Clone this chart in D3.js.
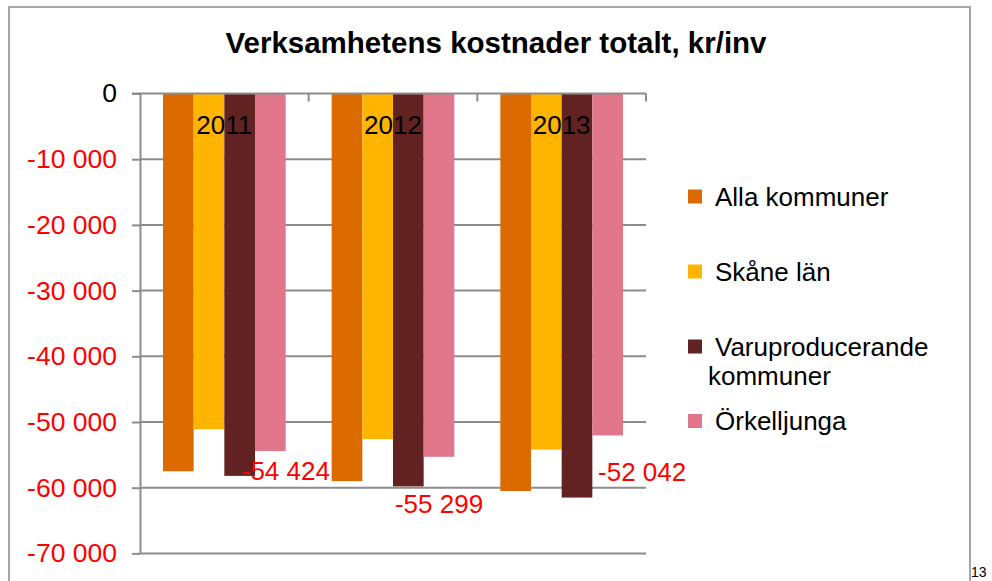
<!DOCTYPE html>
<html>
<head>
<meta charset="utf-8">
<script src="https://cdn.jsdelivr.net/npm/d3@7"></script>
<style>
  html, body { margin: 0; padding: 0; background: #fff; }
  svg { display: block; }
  text { font-family: "Liberation Sans", Arial, sans-serif; }
</style>
</head>
<body>
<svg id="chart" width="992" height="581"></svg>
<script>
// ---- data ----
const categories = ["2011", "2012", "2013"];
const seriesNames = ["Alla kommuner", "Skåne län", "Varuproducerande kommuner", "Örkelljunga"];
const allaKommuner = [-57500, -59000, -60500];
const skaneLan = [-51100, -52600, -54200];
const varuproducerande = [-58200, -59800, -61500];
const orkelljunga = [-54424, -55299, -52042];
const yTicks = [0, -10000, -20000, -30000, -40000, -50000, -60000, -70000];
const dataLabels = ["-54 424", "-55 299", "-52 042"];
const colors = ["#DB6B00", "#FFB400", "#622222", "#E2768A"];

const seriesValues = [allaKommuner, skaneLan, varuproducerande, orkelljunga];

const svg = d3.select("#chart");

// outer border
svg.append("path")
  .attr("d", "M9,600 L9,7 L970,7 L970,600")
  .attr("fill", "none")
  .attr("stroke", "#a6a6a6")
  .attr("stroke-width", 2);

// title
svg.append("text")
  .attr("x", 496).attr("y", 52.5)
  .attr("text-anchor", "middle")
  .attr("font-size", 29.5).attr("font-weight", "bold")
  .attr("fill", "#000")
  .text("Verksamhetens kostnader totalt, kr/inv");

const plotLeft = 140, plotRight = 646, plotTop = 93.5, plotBottom = 553.4;

const y = d3.scaleLinear().domain([-70000, 0]).range([plotBottom, plotTop]);
const x0 = d3.scaleBand().domain(categories).range([plotLeft, plotRight]).padding(0);
const bw = x0.bandwidth();
const gap = bw * 1.5 / 5.5;
const x1 = d3.scaleBand().domain(seriesNames).range([gap / 2, bw - gap / 2]).padding(0);

const gridColor = "#8c8c8c";

// gridlines
svg.append("g").selectAll("line").data(yTicks.filter(d => d !== 0)).join("line")
  .attr("x1", plotLeft).attr("x2", plotRight)
  .attr("y1", d => y(d)).attr("y2", d => y(d))
  .attr("stroke", gridColor).attr("stroke-width", 2);

// y axis
const yAxis = d3.axisLeft(y).tickValues(yTicks).tickSize(8).tickSizeOuter(0)
  .tickFormat(d => d === 0 ? "0" : "-" + d3.format(",")(Math.abs(d)).replace(/,/g, " "));
const gy = svg.append("g").attr("transform", `translate(${plotLeft},0)`).call(yAxis);
gy.select(".domain").attr("stroke", gridColor).attr("stroke-width", 2);
gy.selectAll(".tick line").attr("stroke", gridColor).attr("stroke-width", 2);
gy.selectAll(".tick text")
  .attr("x", -23)
  .attr("font-size", 26.5)
  .attr("font-family", "'Liberation Sans', Arial, sans-serif")
  .attr("fill", d => d === 0 ? "#000" : "#ff0000");

// bars
const groups = svg.append("g").selectAll("g").data(categories).join("g")
  .attr("transform", c => `translate(${x0(c)},0)`);
groups.selectAll("rect")
  .data((c, i) => seriesNames.map((s, j) => ({ s, j, v: seriesValues[j][i] })))
  .join("rect")
  .attr("x", d => x1(d.s))
  .attr("width", x1.bandwidth())
  .attr("y", y(0))
  .attr("height", d => y(d.v) - y(0))
  .attr("fill", d => colors[d.j]);

// category axis line at zero (top)
svg.append("line")
  .attr("x1", plotLeft - 8).attr("x2", plotRight)
  .attr("y1", y(0)).attr("y2", y(0))
  .attr("stroke", gridColor).attr("stroke-width", 2);
// category boundary ticks
const boundaries = categories.map(c => x0(c) + bw);
svg.append("g").selectAll("line").data(boundaries).join("line")
  .attr("x1", d => d).attr("x2", d => d)
  .attr("y1", y(0)).attr("y2", y(0) + 8)
  .attr("stroke", gridColor).attr("stroke-width", 2);

// category labels
svg.append("g").selectAll("text").data(categories).join("text")
  .attr("x", c => x0(c) + bw / 2)
  .attr("y", y(0) + 40.5)
  .attr("text-anchor", "middle")
  .attr("font-size", 26)
  .attr("fill", "#000")
  .text(c => c);

// data labels for Örkelljunga (manually placed in original)
const lblOffsets = [[15.5, 29.3], [0, 56.3], [34.5, 45.7]];
svg.append("g").selectAll("text").data(categories).join("text")
  .attr("x", (c, i) => x0(c) + x1(seriesNames[3]) + x1.bandwidth() / 2 + lblOffsets[i][0])
  .attr("y", (c, i) => y(orkelljunga[i]) + lblOffsets[i][1])
  .attr("text-anchor", "middle")
  .attr("font-size", 26)
  .attr("fill", "#ff0000")
  .text((c, i) => dataLabels[i]);

// legend
const legendY = [189.5, 264.5, 339.5, 414];
const leg = svg.append("g").selectAll("g").data(seriesNames).join("g");
leg.append("rect")
  .attr("x", 688).attr("y", (d, i) => legendY[i])
  .attr("width", 14).attr("height", 14)
  .attr("fill", (d, i) => colors[i]);
leg.each(function (d, i) {
  const g = d3.select(this);
  if (d === "Varuproducerande kommuner") {
    g.append("text").attr("x", 715).attr("y", legendY[i] + 16)
      .attr("font-size", 26).attr("fill", "#000").text("Varuproducerande");
    g.append("text").attr("x", 708).attr("y", legendY[i] + 45)
      .attr("font-size", 26).attr("fill", "#000").text("kommuner");
  } else {
    g.append("text").attr("x", 715).attr("y", legendY[i] + 16)
      .attr("font-size", 26).attr("fill", "#000").text(d);
  }
});

// page number
svg.append("text")
  .attr("x", 971).attr("y", 577)
  .attr("font-family", "'DejaVu Serif', serif")
  .attr("font-size", 14)
  .attr("fill", "#000")
  .text("13");
</script>
</body>
</html>
